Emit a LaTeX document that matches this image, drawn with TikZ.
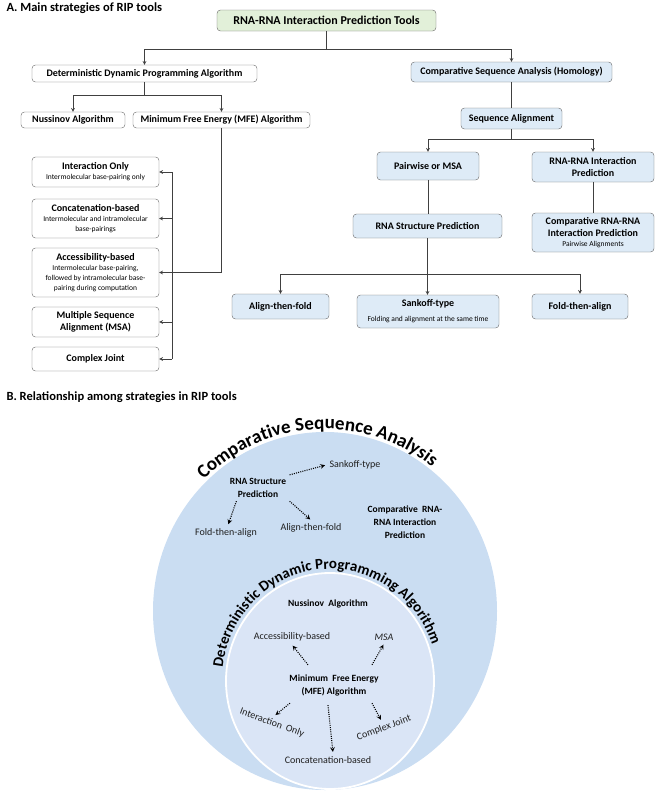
\documentclass[tikz,border=0pt]{standalone}
\usepackage{fontspec}
\setmainfont{Carlito}
\usetikzlibrary{decorations.text}

\definecolor{boxline}{HTML}{666666}
\definecolor{conline}{HTML}{404040}
\definecolor{bluebox}{HTML}{DEEBF7}
\definecolor{greenbox}{HTML}{E2F0D9}
\definecolor{outerblue}{HTML}{CADDF2}
\definecolor{innerblue}{HTML}{DAE5F6}

\newcommand{\smalltxt}[1]{{\fontsize{7.5}{8}\selectfont\mdseries #1}}

\begin{document}
\begin{tikzpicture}[x=1pt,y=-1pt,
  box/.style={draw=boxline,rounded corners=3.5pt,fill=white,align=center,inner sep=1pt,
    font=\fontsize{10}{12}\selectfont\bfseries},
  bbox/.style={box,fill=bluebox},
  con/.style={draw=conline,line width=0.7pt},
  arr/.style={con,-stealth},
  dotarr/.style={draw=black,line width=1.1pt,dash pattern=on 1pt off 1.2pt,-stealth,shorten >=1pt},
  circtxt/.style={font=\fontsize{10}{12}\selectfont,text=black!88,align=center},
  circbold/.style={font=\fontsize{9.5}{13}\selectfont\bfseries,align=center}]
\useasboundingbox (0,0) rectangle (658,795);

\node[anchor=west,font=\fontsize{12.5}{14}\selectfont\bfseries] (titleA) at (3,8) {A. Main strategies of RIP tools};
\node[anchor=west,font=\fontsize{12.5}{14}\selectfont\bfseries] (titleB) at (3,397) {B. Relationship among strategies in RIP tools};

% part A
\node[box,fill=greenbox,font=\fontsize{12}{14}\selectfont\bfseries,minimum width=219,minimum height=21] (tools) at (326.5,20.5) {RNA-RNA Interaction Prediction Tools};
\node[box,minimum width=225,minimum height=17] (ddp) at (144.5,73.5) {Deterministic Dynamic Programming Algorithm};
\node[bbox,minimum width=201,minimum height=20] (csa) at (511.5,72) {Comparative Sequence Analysis (Homology)};
\node[box,minimum width=104,minimum height=16] (nuss) at (73,120) {Nussinov Algorithm};
\node[box,minimum width=177,minimum height=16] (mfe) at (221.5,120) {Minimum Free Energy (MFE) Algorithm};

\node[box,minimum width=127,minimum height=30] (intonly) at (95.5,172) {Interaction Only\\[-2pt] \smalltxt{Intermolecular base-pairing only}};
\node[box,minimum width=127,minimum height=39] (concat) at (95.5,218.5) {Concatenation-based\\[-2pt] \smalltxt{Intermolecular and intramolecular}\\[-2pt] \smalltxt{base-pairings}};
\node[box,minimum width=127,minimum height=49] (acc) at (95.5,272.5) {Accessibility-based\\[-2pt] \smalltxt{Intermolecular base-pairing,}\\[-2pt] \smalltxt{followed by intramolecular base-}\\[-2pt] \smalltxt{pairing during computation}};
\node[box,minimum width=127,minimum height=30] (msa) at (95.5,322) {Multiple Sequence\\ Alignment (MSA)};
\node[box,minimum width=127,minimum height=24] (cjoint) at (95.5,359) {Complex Joint};

\node[bbox,minimum width=101,minimum height=21] (seqal) at (511.5,118.5) {Sequence Alignment};
\node[bbox,minimum width=102,minimum height=28] (pair) at (428,166) {Pairwise or MSA};
\node[bbox,minimum width=122,minimum height=30] (rrip) at (593,167) {RNA-RNA Interaction\\ Prediction};
\node[bbox,minimum width=149,minimum height=24] (rsp) at (427.5,226) {RNA Structure Prediction};
\node[bbox,minimum width=122,minimum height=39] (crrip) at (593,232.5) {Comparative RNA-RNA\\ Interaction Prediction\\[-2pt] \smalltxt{Pairwise Alignments}};
\node[bbox,minimum width=97,minimum height=25] (atf) at (280.5,306.5) {Align-then-fold};
\node[bbox,minimum width=142,minimum height=33] (sank) at (428,311.5) {Sankoff-type\\[3pt] \smalltxt{Folding and alignment at the same time}};
\node[bbox,minimum width=96,minimum height=25] (fta) at (580,306.5) {Fold-then-align};

\draw[arr] (tools.south) -- ++(0,18) -| (ddp.north);
\draw[arr] (tools.south) -- ++(0,18) -| (csa.north);
\draw[arr] (ddp.south) -- ++(0,13) -| (nuss.north);
\draw[arr] (ddp.south) -- ++(0,13) -| (mfe.north);
\coordinate (bus) at (172,0);
\draw[con] (intonly.east -| bus) -- (cjoint.east -| bus);
\draw[arr] (mfe.south) |- (acc.east);
\foreach \n in {intonly,concat,msa,cjoint}
  \draw[arr] (\n.east -| bus) -- (\n.east);
\draw[con] (csa) -- (seqal);
\draw[arr] (seqal.south) -- ++(0,10) -| (pair.north);
\draw[arr] (seqal.south) -- ++(0,10) -| (rrip.north);
\draw[con] (pair.south) -- (pair.south |- rsp.north);
\draw[con] (rrip) -- (crrip);
\draw[arr] (rsp.south) -- (rsp.south |- sank.north);
\draw[arr] (rsp.south) -- ++(0,36) -| (atf.north);
\draw[arr] (rsp.south) -- ++(0,36) -| (fta.north);

% part B
\fill[outerblue] (325,611) ellipse [x radius=172, y radius=179];
\filldraw[fill=innerblue,draw=white,line width=1.8pt] (330,681) ellipse [x radius=104, y radius=108];

\path[decorate,decoration={text along path,text align=center,
  text={|\fontsize{19}{19}\selectfont\bfseries|Comparative Sequence Analysis}}]
  (325,611) ++(197:175 and 182) arc[start angle=197,end angle=337,x radius=175,y radius=182];
\path[decorate,decoration={text along path,text align=center,
  text={|\fontsize{15}{15}\selectfont\bfseries|Deterministic Dynamic Programming Algorithm}}]
  (330,681) ++(150:108 and 112) arc[start angle=150,end angle=378,x radius=108,y radius=112];

\node[circbold] (rsp2) at (258,488) {RNA Structure\\ Prediction};
\node[circtxt] (sank2) at (355,465) {Sankoff-type};
\node[circtxt] (fta2) at (226,533) {Fold-then-align};
\node[circtxt] (atf2) at (311,528) {Align-then-fold};
\node[circbold] (crrip2) at (405,522) {Comparative~ RNA-\\ RNA Interaction\\ Prediction};

\node[circbold] (nuss2) at (328,604) {Nussinov~ Algorithm};
\node[circtxt] (acc2) at (292,637) {Accessibility-based};
\node[circtxt,font=\fontsize{10}{12}\selectfont\itshape] (msa2) at (384,637) {MSA};
\node[circbold] (mfe2) at (334,685) {Minimum~ Free Energy\\ (MFE) Algorithm};
\node[circtxt,rotate=-20] (intonly2) at (272,723) {Interaction~ Only};
\node[circtxt] (concat2) at (328,760) {Concatenation-based};
\node[circtxt,rotate=20] (cjoint2) at (384,728) {Complex Joint};

\draw[dotarr] (rsp2.north east) -- (sank2.west);
\draw[dotarr] ([xshift=10pt]rsp2.south west) -- ([xshift=2pt]fta2.north);
\draw[dotarr] (rsp2.south east) -- (atf2.north);
\draw[dotarr] ([shift={(-26pt,6pt)}]mfe2.north) -- (acc2.south);
\draw[dotarr] ([shift={(38pt,6pt)}]mfe2.north) -- (msa2.south);
\draw[dotarr] ([shift={(4pt,-4pt)}]mfe2.south west) -- (intonly2.north);
\draw[dotarr] ([shift={(-6pt,-6pt)}]mfe2.south) -- ([xshift=5pt]concat2.north);
\draw[dotarr] ([shift={(38pt,-4pt)}]mfe2.south) -- (cjoint2.north);
\end{tikzpicture}
\end{document}
